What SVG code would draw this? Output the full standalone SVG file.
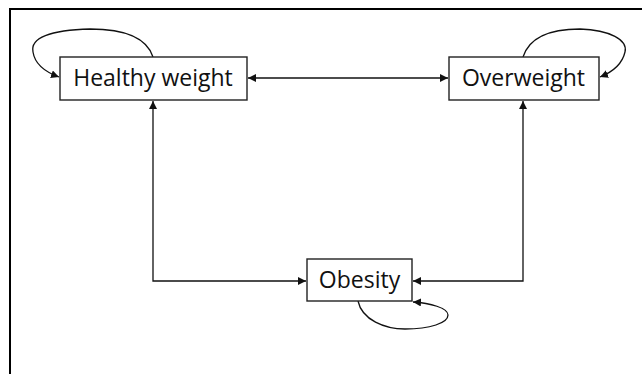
<svg xmlns="http://www.w3.org/2000/svg" width="642" height="374" viewBox="0 0 642 374">
<defs>
<style>
.box{fill:#fff;stroke:#222;stroke-width:1.4}
.lbl{font-family:"Open Sans","Noto Sans","Liberation Sans",sans-serif;font-size:23px;fill:#111;text-anchor:middle}
.edge{fill:none;stroke:#111;stroke-width:1.3}
</style>
<marker id="arr" viewBox="0 0 10 10" refX="10" refY="5" markerWidth="8" markerHeight="8" markerUnits="userSpaceOnUse" orient="auto-start-reverse">
<path d="M0,0 L10,5 L0,10 Z" fill="#111"/>
</marker>
</defs>
<rect x="0" y="0" width="642" height="374" fill="#fff"/>
<path d="M10,374 V9 H642" fill="none" stroke="#000" stroke-width="2"/>
<g id="connectors">
<path class="edge" d="M248,78 H448" marker-start="url(#arr)" marker-end="url(#arr)"/>
<path class="edge" d="M153,101 V281 H306" marker-start="url(#arr)" marker-end="url(#arr)"/>
<path class="edge" d="M523,101 V281 H413" marker-start="url(#arr)" marker-end="url(#arr)"/>
<path class="edge" d="M153,57 C145,32 110,29 90,29 C50,30 30,38 33,52 C35,65 48,73 59,77" marker-end="url(#arr)"/>
<path class="edge" d="M523,57 C531,32 560,29 580,29 C610,30 628,40 625,52 C622,65 610,73 600,77" marker-end="url(#arr)"/>
<path class="edge" d="M358,301 C362,320 385,329 405,329 C430,329 448,323 448,315 C448,308 430,303 413,302" marker-end="url(#arr)"/>
</g>
<g id="healthy">
<rect class="box" x="60" y="57" width="187" height="43"/>
<text class="lbl" x="153" y="86">Healthy weight</text>
</g>
<g id="overweight">
<rect class="box" x="449" y="57" width="150" height="43"/>
<text class="lbl" x="523.5" y="86">Overweight</text>
</g>
<g id="obesity">
<rect class="box" x="307" y="259" width="105" height="42"/>
<text class="lbl" x="359.5" y="288">Obesity</text>
</g>
</svg>
